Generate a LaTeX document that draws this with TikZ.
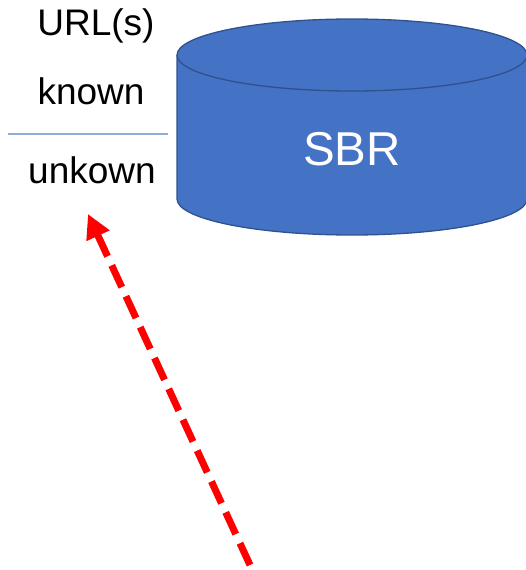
\documentclass[tikz,border=0pt]{standalone}
\usepackage{fontspec}
\setmainfont{Liberation Sans}
\usetikzlibrary{arrows.meta}
\definecolor{dbfill}{HTML}{4472C4}
\definecolor{dbedge}{HTML}{2F528F}
\definecolor{rulecol}{HTML}{8FAADC}
\definecolor{flow}{HTML}{FF0000}
\tikzset{
  lbl/.style={inner sep=0pt, font=\fontsize{37}{44}\selectfont, text=black},
  dbtext/.style={inner sep=0pt, font=\fontsize{47.5}{56}\selectfont, text=white},
  dbshape/.style={fill=dbfill, draw=dbedge, line width=1.3pt},
  flowarrow/.style={flow, line width=7pt, dash pattern=on 24pt off 10pt,
    -{Triangle[length=24pt,width=24pt]}}
}
\begin{document}
\begin{tikzpicture}[x=1pt,y=-1pt]
\useasboundingbox (0,0) rectangle (526,570);
\begin{scope}
\clip (0,0) rectangle (526,570);
% database cylinder
\draw[dbshape] (177,55) -- (177,199) arc[start angle=180,end angle=360,x radius=175,y radius=-36] -- (527,55);
\draw[dbshape] (352,55) ellipse[x radius=175,y radius=36];
\end{scope}
\node[dbtext] (sbr) at (352,149) {SBR};
% legend column
\node[lbl] (urls) at (96,26) {URL(s)};
\node[lbl] (known) at (91,91) {known};
\coordinate (ruleL) at (8,134);
\coordinate (ruleR) at (168,134);
\draw[rulecol, line width=1.2pt] (ruleL) -- (ruleR);
\node[lbl] (unknown) at (92,170) {unkown};
% incoming request arrow
\coordinate (tail) at (250,565);
\coordinate (tip) at (88,214);
\draw[flowarrow] (tail) -- (tip);
\end{tikzpicture}
\end{document}
